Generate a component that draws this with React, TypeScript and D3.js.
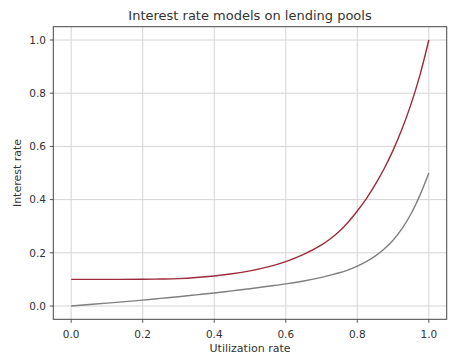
import React from "react";
import * as d3 from "d3";

const title = "Interest rate models on lending pools";
const xLabel = "Utilization rate";
const yLabel = "Interest rate";
const xTicks = [0, 0.2, 0.4, 0.6, 0.8, 1.0];
const yTicks = [0, 0.2, 0.4, 0.6, 0.8, 1.0];

const utilization = [0, 0.1, 0.2, 0.25, 0.3, 0.35, 0.4, 0.45, 0.5, 0.55, 0.6, 0.65, 0.7, 0.725, 0.75, 0.775, 0.8, 0.825, 0.85, 0.875, 0.9, 0.925, 0.95, 0.975, 1.0];
const redRates = [0.1, 0.1, 0.1005, 0.1015, 0.103, 0.107, 0.113, 0.121, 0.132, 0.147, 0.167, 0.194, 0.23, 0.253, 0.281, 0.316, 0.357, 0.403, 0.456, 0.516, 0.585, 0.665, 0.758, 0.867, 1.0];
const grayRates = [0, 0.011, 0.022, 0.0285, 0.035, 0.042, 0.049, 0.057, 0.065, 0.074, 0.083, 0.094, 0.1075, 0.116, 0.125, 0.136, 0.15, 0.167, 0.1875, 0.214, 0.2475, 0.291, 0.346, 0.416, 0.5];

const W = 460;
const H = 357;
const left = 53.3, right = 446.7, top = 26.7, bottom = 319.3;
const font = "DejaVu Sans, sans-serif";
const textColor = "#333";

export default function App() {
  const x = d3.scaleLinear().domain([-0.05, 1.05]).range([left, right]);
  const y = d3.scaleLinear().domain([-0.05, 1.05]).range([bottom, top]);
  const line = (vals: number[]) =>
    d3
      .line<number>()
      .x((_, i) => x(utilization[i]))
      .y((d) => y(d))
      .curve(d3.curveCatmullRom.alpha(0.5))(vals) || "";
  const fmt = d3.format(".1f");

  return (
    <svg width={W} height={H} style={{ position: "absolute", left: 0, top: 0, background: "#fff" }}>
      <rect x={0} y={0} width={W} height={H} fill="#fff" />
      {xTicks.map((t) => (
        <line key={"gx" + t} x1={x(t)} x2={x(t)} y1={top} y2={bottom} stroke="#d4d4d4" strokeWidth={1} />
      ))}
      {yTicks.map((t) => (
        <line key={"gy" + t} x1={left} x2={right} y1={y(t)} y2={y(t)} stroke="#d4d4d4" strokeWidth={1} />
      ))}
      <path d={line(grayRates)} fill="none" stroke="#7f7f7f" strokeWidth={1.4} />
      <path d={line(redRates)} fill="none" stroke="#9e2a3c" strokeWidth={1.4} />
      <rect x={left} y={top} width={right - left} height={bottom - top} fill="none" stroke="#444" strokeWidth={1} />
      {xTicks.map((t) => (
        <g key={"tx" + t}>
          <line x1={x(t)} x2={x(t)} y1={bottom} y2={bottom + 3.5} stroke="#444" strokeWidth={0.9} />
          <text x={x(t)} y={337.5} textAnchor="middle" fontFamily={font} fontSize={10.5} fill={textColor}>
            {fmt(t)}
          </text>
        </g>
      ))}
      {yTicks.map((t) => (
        <g key={"ty" + t}>
          <line x1={left - 3.5} x2={left} y1={y(t)} y2={y(t)} stroke="#444" strokeWidth={0.9} />
          <text x={46} y={y(t) + 3.8} textAnchor="end" fontFamily={font} fontSize={10.5} fill={textColor}>
            {fmt(t)}
          </text>
        </g>
      ))}
      <text x={(left + right) / 2} y={19.5} textAnchor="middle" fontFamily={font} fontSize={13} fill={textColor}>
        {title}
      </text>
      <text x={(left + right) / 2} y={351.5} textAnchor="middle" fontFamily={font} fontSize={11} fill={textColor}>
        {xLabel}
      </text>
      <text
        transform={`translate(20.5,${(top + bottom) / 2}) rotate(-90)`}
        textAnchor="middle"
        fontFamily={font}
        fontSize={11}
        fill={textColor}
      >
        {yLabel}
      </text>
    </svg>
  );
}
